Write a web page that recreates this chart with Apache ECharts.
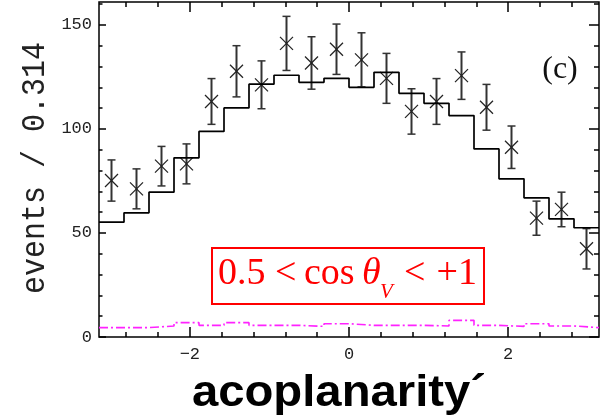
<!DOCTYPE html>
<html>
<head>
<meta charset="utf-8">
<script src="https://cdn.jsdelivr.net/npm/echarts@6/dist/echarts.min.js"></script>
<style>
html,body{margin:0;padding:0;background:#fff;}
#chart{width:605px;height:418px;}
</style>
</head>
<body>
<div id="chart"></div>
<script>
// ---- data ----
const binCount = 20;
const xMin = -Math.PI, xMax = Math.PI;
const dataValues = [75.2, 71.2, 82.1, 83.2, 113.2, 127.7, 121.2, 141.1, 131.7, 138.3,
                    133.2, 124.3, 108.4, 113.2, 125.6, 110.4, 91.2, 57.1, 61.3, 42.4];
const dataErrors = [9.9, 9.6, 9.5, 9.6, 11.0, 12.3, 11.5, 13.0, 12.6, 12.1,
                    13.0, 12.0, 10.9, 11.0, 11.4, 11.0, 10.2, 8.2, 8.3, 9.7];
const mcValues = [55.2, 59.7, 69.6, 86.1, 98.8, 110.1, 121.5, 125.8, 122.4, 124.3,
                  120.0, 127.2, 117.1, 112.3, 106.4, 90.4, 76.0, 66.9, 56.8, 52.5];
const bkgValues = [4.5, 4.5, 5.3, 6.9, 5.6, 6.9, 5.6, 5.6, 5.1, 6.4,
                   5.6, 5.6, 5.6, 5.3, 8.0, 5.6, 5.1, 6.4, 5.3, 4.5];
const xMajorTicks = [-2, 0, 2];
const xMinorTicks = [-2.8, -2.4, -1.6, -1.2, -0.8, -0.4, 0.4, 0.8, 1.2, 1.6, 2.4, 2.8];
const yMajorTicks = [0, 50, 100, 150];
const yMinorTicks = [10, 20, 30, 40, 60, 70, 80, 90, 110, 120, 130, 140, 160];
const yMax = 161;

// ---- derived ----
const binW = (xMax - xMin) / binCount;
function stepData(vals) {
  const d = vals.map((v, k) => [xMin + k * binW, v]);
  d.push([xMax, vals[vals.length - 1]]);
  return d;
}
const pointData = dataValues.map((v, k) => [xMin + (k + 0.5) * binW, v, dataErrors[k]]);

const chart = echarts.init(document.getElementById('chart'), null, {renderer: 'canvas'});
const tickStyle = {color: '#000', width: 1.5};
const monoFont = 'Liberation Mono';

function xAx(pos, ticks, len, labels) {
  return {
    type: 'value', position: pos, min: xMin, max: xMax,
    axisLine: {show: false, onZero: false},
    splitLine: {show: false},
    axisTick: {show: true, inside: true, length: len, customValues: ticks, lineStyle: tickStyle},
    axisLabel: labels ? {
      show: true, customValues: ticks, margin: 9, color: '#222',
      fontFamily: monoFont, fontSize: 17,
      formatter: v => (v < 0 ? '\u2212' + Math.abs(v) : String(v))
    } : {show: false}
  };
}
function yAx(pos, ticks, len, labels) {
  return {
    type: 'value', position: pos, min: 0, max: yMax,
    axisLine: {show: false, onZero: false},
    splitLine: {show: false},
    axisTick: {show: true, inside: true, length: len, customValues: ticks, lineStyle: tickStyle},
    axisLabel: labels ? {
      show: true, customValues: ticks, margin: 7, color: '#222',
      fontFamily: monoFont, fontSize: 17
    } : {show: false}
  };
}

const redFont = '38px "Liberation Serif"';
const redY = 274.5;
const option = {
  animation: false,
  backgroundColor: '#fff',
  grid: {left: 99, right: 6, top: 2, bottom: 81, show: true, borderColor: '#000', borderWidth: 1.5, backgroundColor: 'transparent'},
  xAxis: [
    xAx('bottom', xMajorTicks, 10, true),
    xAx('bottom', xMinorTicks, 5, false),
    xAx('top', xMajorTicks, 10, false),
    xAx('top', xMinorTicks, 5, false)
  ],
  yAxis: [
    yAx('left', yMajorTicks, 7, true),
    yAx('left', yMinorTicks, 3.5, false),
    yAx('right', yMajorTicks, 10, false),
    yAx('right', yMinorTicks, 5, false)
  ],
  series: [
    {
      type: 'line', xAxisIndex: 0, yAxisIndex: 0, step: 'end', symbol: 'none',
      data: stepData(mcValues),
      lineStyle: {color: '#000', width: 1.7}
    },
    {
      type: 'line', xAxisIndex: 0, yAxisIndex: 0, step: 'end', symbol: 'none',
      data: stepData(bkgValues),
      lineStyle: {color: '#ff22ff', width: 1.6, type: [9, 3, 2, 3]}
    },
    {
      type: 'custom', xAxisIndex: 0, yAxisIndex: 0,
      data: pointData,
      renderItem: function (params, api) {
        const x = api.value(0), y = api.value(1), e = api.value(2);
        const c = api.coord([x, y]);
        const t = api.coord([x, y + e]);
        const b = api.coord([x, y - e]);
        const cap = 4, s = 6.5;
        const st = {stroke: '#333', lineWidth: 2};
        const cs = {stroke: '#222', lineWidth: 1.2};
        return {
          type: 'group',
          children: [
            {type: 'line', shape: {x1: c[0], y1: t[1], x2: c[0], y2: b[1]}, style: st},
            {type: 'line', shape: {x1: c[0] - cap, y1: t[1], x2: c[0] + cap, y2: t[1]}, style: {stroke: '#333', lineWidth: 1.5}},
            {type: 'line', shape: {x1: c[0] - cap, y1: b[1], x2: c[0] + cap, y2: b[1]}, style: {stroke: '#333', lineWidth: 1.5}},
            {type: 'line', shape: {x1: c[0] - s, y1: c[1] - s, x2: c[0] + s, y2: c[1] + s}, style: cs},
            {type: 'line', shape: {x1: c[0] - s, y1: c[1] + s, x2: c[0] + s, y2: c[1] - s}, style: cs}
          ]
        };
      }
    }
  ],
  graphic: [
    {
      type: 'text', x: 35.5, y: 168, rotation: Math.PI / 2, scaleY: 1.1,
      style: {text: 'events / 0.314', font: '30px "Liberation Mono"', fill: '#222', align: 'center', verticalAlign: 'middle'}
    },
    {
      type: 'text', x: 339, y: 394, scaleX: 1.05,
      style: {text: 'acoplanarity\u00b4', font: 'bold 45px "Liberation Sans"', fill: '#000', align: 'center', verticalAlign: 'middle'}
    },
    {
      type: 'text', x: 560, y: 70,
      style: {text: '(c)', font: '32px "Liberation Serif"', fill: '#111', align: 'center', verticalAlign: 'middle'}
    },
    {
      type: 'rect', shape: {x: 212, y: 248, width: 272, height: 56},
      style: {fill: 'none', stroke: '#ff0000', lineWidth: 2}
    },
    {type: 'text', x: 218, y: redY, style: {text: '0.5', font: redFont, fill: '#ff0000', align: 'left', verticalAlign: 'middle'}},
    {type: 'text', x: 275, y: redY, style: {text: '<', font: redFont, fill: '#ff0000', align: 'left', verticalAlign: 'middle'}},
    {type: 'text', x: 304, y: redY, style: {text: 'cos', font: redFont, fill: '#ff0000', align: 'left', verticalAlign: 'middle'}},
    {type: 'text', x: 362, y: redY, style: {text: '\u03b8', font: 'italic 38px "Liberation Serif"', fill: '#ff0000', align: 'left', verticalAlign: 'middle'}},
    {type: 'text', x: 380, y: 292, style: {text: 'V', font: 'italic 21px "Liberation Serif"', fill: '#ff0000', align: 'left', verticalAlign: 'middle'}},
    {type: 'text', x: 404, y: redY, style: {text: '<', font: redFont, fill: '#ff0000', align: 'left', verticalAlign: 'middle'}},
    {type: 'text', x: 477, y: redY, style: {text: '+1', font: redFont, fill: '#ff0000', align: 'right', verticalAlign: 'middle'}}
  ]
};
chart.setOption(option);
</script>
</body>
</html>
